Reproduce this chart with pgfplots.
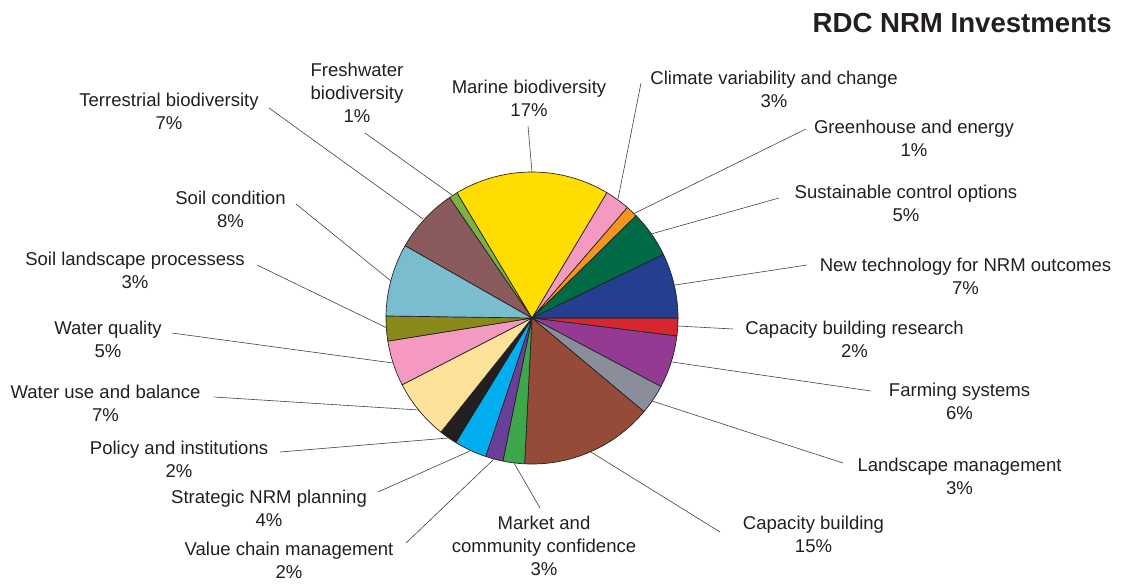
\documentclass[border=0pt]{standalone}
\usepackage{pgfplots}
\pgfplotsset{compat=1.18}
\usepackage{fontspec}
\setmainfont{Liberation Sans}

\definecolor{txt}{HTML}{231F20}
\definecolor{edge}{HTML}{231F20}
\definecolor{cYellow}{HTML}{FFDD00}
\definecolor{cPink}{HTML}{F49AC1}
\definecolor{cOrange}{HTML}{F7941D}
\definecolor{cDkGreen}{HTML}{006B45}
\definecolor{cBlue}{HTML}{243F8F}
\definecolor{cRed}{HTML}{D7262F}
\definecolor{cPurple}{HTML}{953A93}
\definecolor{cGray}{HTML}{8A8D9A}
\definecolor{cBrown}{HTML}{954B38}
\definecolor{cGreen}{HTML}{3EA64B}
\definecolor{cViolet}{HTML}{6A3F99}
\definecolor{cCyan}{HTML}{00AEEF}
\definecolor{cBlack}{HTML}{231F20}
\definecolor{cLtYellow}{HTML}{FEE29A}
\definecolor{cOlive}{HTML}{8A8A1A}
\definecolor{cLtBlue}{HTML}{7ABDCF}
\definecolor{cMauve}{HTML}{8B5A5C}
\definecolor{cLime}{HTML}{7DB143}

\tikzset{lbl/.style={inner sep=0pt, text=txt, align=center,
     font=\fontsize{13.9}{17.25}\selectfont}}

% slice: colour, start angle, end angle (degrees, clockwise = negative)
\newcommand{\slice}[3]{%
  \addplot[fill=#1, draw=edge, line width=0.5pt, mark=none, domain=#2:#3, samples=40, variable=\t]
    ({532+146*cos(t)},{318-146*sin(t)}) -- (axis cs:532,318) -- cycle;}
\newcommand{\leader}[4]{%
  \addplot[draw=txt!85, line width=0.45pt, mark=none] coordinates {(#1,#2) (#3,#4)};}

\begin{document}
\begin{tikzpicture}
\begin{axis}[
  width=842.25pt, height=437.25pt, scale only axis,
  xmin=0, xmax=1123, ymin=0, ymax=583, y dir=reverse,
  hide axis, clip=false,
]
\path (axis cs:0,0) rectangle (axis cs:1123,583);

% slices (angles; 360 deg = 100 %)
\slice{cRed}{0}{-7.1}          % Capacity building research 2%
\slice{cPurple}{-7.1}{-28.0}   % Farming systems 6%
\slice{cGray}{-28.0}{-39.9}    % Landscape management 3%
\slice{cBrown}{-39.9}{-92.9}   % Capacity building 15%
\slice{cGreen}{-92.9}{-101.5}  % Market and community confidence 3%
\slice{cViolet}{-101.5}{-108.5}% Value chain management 2%
\slice{cCyan}{-108.5}{-121.5}  % Strategic NRM planning 4%
\slice{cBlack}{-121.5}{-128.6} % Policy and institutions 2%
\slice{cLtYellow}{-128.6}{-152.8} % Water use and balance 7%
\slice{cPink}{-152.8}{-170.9}  % Water quality 5%
\slice{cOlive}{-170.9}{-180.8} % Soil landscape processess 3%
\slice{cLtBlue}{-180.8}{-209.7}% Soil condition 8%
\slice{cMauve}{-209.7}{-235.6} % Terrestrial biodiversity 7%
\slice{cLime}{-235.6}{-239.1}  % Freshwater biodiversity 1%
\slice{cYellow}{-239.1}{-300.9}% Marine biodiversity 17%
\slice{cPink}{-300.9}{-310.8}  % Climate variability and change 3%
\slice{cOrange}{-310.8}{-315.5}% Greenhouse and energy 1%
\slice{cDkGreen}{-315.5}{-334.2}% Sustainable control options 5%
\slice{cBlue}{-334.2}{-360}    % New technology for NRM outcomes 7%

% leader lines
\leader{269}{108}{423}{219}
\leader{365}{133}{452}{195}
\leader{528}{126}{532}{172}
\leader{641}{83}{618}{199}
\leader{806}{129}{633}{214}
\leader{779}{198}{651}{234}
\leader{807}{265}{675}{285}
\leader{733}{329}{678}{326}
\leader{871}{391}{672}{362}
\leader{843}{463}{652}{401}
\leader{720}{532}{591}{452}
\leader{540}{508}{514}{463}
\leader{406}{543}{494}{459}
\leader{378}{492}{470}{451}
\leader{280}{452}{448}{438}
\leader{214}{397}{419}{410}
\leader{172}{333}{393}{363}
\leader{257}{265}{387}{328}
\leader{296}{204}{391}{281}

% labels
\node[lbl] at (axis cs:169,111.5) {Terrestrial biodiversity\\7\%};
\node[lbl] at (axis cs:357,92.5) {Freshwater\\biodiversity\\1\%};
\node[lbl] at (axis cs:529,98.5) {Marine biodiversity\\17\%};
\node[lbl] at (axis cs:774,89.5) {Climate variability and change\\3\%};
\node[lbl] at (axis cs:914,138.5) {Greenhouse and energy\\1\%};
\node[lbl] at (axis cs:906,203.5) {Sustainable control options\\5\%};
\node[lbl] at (axis cs:965.5,276.5) {New technology for NRM outcomes\\7\%};
\node[lbl] at (axis cs:854.5,339) {Capacity building research\\2\%};
\node[lbl] at (axis cs:959.5,401.5) {Farming systems\\6\%};
\node[lbl] at (axis cs:959.5,476.5) {Landscape management\\3\%};
\node[lbl] at (axis cs:813.5,534.5) {Capacity building\\15\%};
\node[lbl] at (axis cs:544,546) {Market and\\community confidence\\3\%};
\node[lbl] at (axis cs:289,560.5) {Value chain management\\2\%};
\node[lbl] at (axis cs:269,508.5) {Strategic NRM planning\\4\%};
\node[lbl] at (axis cs:179,459.5) {Policy and institutions\\2\%};
\node[lbl] at (axis cs:105.5,403.5) {Water use and balance\\7\%};
\node[lbl] at (axis cs:108,339) {Water quality\\5\%};
\node[lbl] at (axis cs:135,270) {Soil landscape processess\\3\%};
\node[lbl] at (axis cs:230.5,209.5) {Soil condition\\8\%};

\node[anchor=base east, inner sep=0pt, text=txt, font=\fontsize{20.7}{24}\selectfont\bfseries] at (axis cs:1112,32) {RDC NRM Investments};
\end{axis}
\end{tikzpicture}
\end{document}
